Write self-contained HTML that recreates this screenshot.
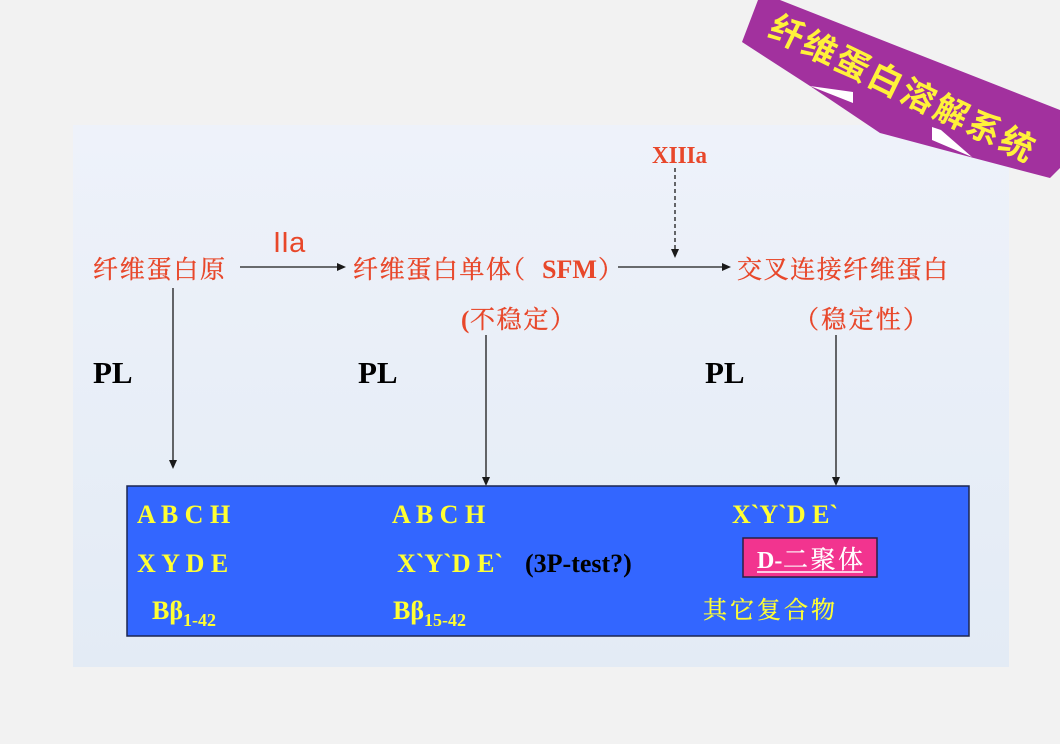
<!DOCTYPE html>
<html>
<head>
<meta charset="utf-8">
<style>
html,body{margin:0;padding:0;background:#f2f2f2;}
svg{display:block;}
</style>
</head>
<body>
<svg width="1060" height="744" viewBox="0 0 1060 744" xmlns="http://www.w3.org/2000/svg">
  <defs>
    <linearGradient id="pg" x1="0" y1="0" x2="0" y2="1">
      <stop offset="0" stop-color="#eef2fa"/>
      <stop offset="1" stop-color="#e3ebf5"/>
    </linearGradient>
  </defs>
  <rect x="0" y="0" width="1060" height="744" fill="#f2f2f2"/>
  <rect x="73" y="125" width="936" height="542" fill="url(#pg)"/>

  <!-- Banner -->
  <polygon points="758,0 780,0 1060,110 1060,168 1050,178 970,157 880,133 810,86 742,42" fill="#a2319e"/>
  <polygon points="810,86 853,92 853,103" fill="#ffffff"/>
  <polygon points="932,127 941,130 972,157 932,140" fill="#ffffff"/>
  <text x="902" y="100" text-anchor="middle" font-family="'Noto Sans CJK SC','WenQuanYi Zen Hei',sans-serif" font-weight="bold" font-size="34" fill="#fff23a" textLength="290" lengthAdjust="spacing" transform="rotate(26 902 88)">纤维蛋白溶解系统</text>

  <!-- Top row -->
  <g font-family="'Noto Serif CJK SC','Liberation Serif',serif" fill="#e8472a" stroke="#e8472a" stroke-width="0.35" font-size="25">
    <text x="93" y="278" textLength="132" lengthAdjust="spacing">纤维蛋白原</text>
    <text x="353" y="278" textLength="158" lengthAdjust="spacing">纤维蛋白单体</text>
    <text x="500" y="278">（</text>
    <text x="598" y="278">）</text>
    <text x="737" y="278" textLength="211" lengthAdjust="spacing">交叉连接纤维蛋白</text>
    <text x="470" y="328" textLength="105" lengthAdjust="spacing">不稳定）</text>
    <text x="794" y="328" textLength="134" lengthAdjust="spacing">（稳定性）</text>
  </g>
  <text x="542" y="278" font-family="'Liberation Serif',serif" font-weight="bold" font-size="26" fill="#e8472a">SFM</text>
  <text x="461" y="328" font-family="'Liberation Serif',serif" font-weight="bold" font-size="25" fill="#e8472a">(</text>
  <text x="273" y="252" font-family="'Liberation Sans',sans-serif" font-size="29" fill="#e8472a">IIa</text>
  <text x="652" y="163" font-family="'Liberation Serif',serif" font-weight="bold" font-size="24" fill="#e8472a" textLength="55" lengthAdjust="spacingAndGlyphs">XIIIa</text>

  <!-- Arrows -->
  <g stroke="#1a1a1a" stroke-width="1.3" fill="none">
    <line x1="240" y1="267" x2="338" y2="267"/>
    <line x1="618" y1="267" x2="723" y2="267"/>
    <line x1="675" y1="168" x2="675" y2="250" stroke-dasharray="4,3"/>
    <line x1="173" y1="288" x2="173" y2="461"/>
    <line x1="486" y1="335" x2="486" y2="478"/>
    <line x1="836" y1="335" x2="836" y2="478"/>
  </g>
  <g fill="#1a1a1a">
    <polygon points="346,267 337,263 337,271"/>
    <polygon points="731,267 722,263 722,271"/>
    <polygon points="675,258 671,249 679,249"/>
    <polygon points="173,469 169,460 177,460"/>
    <polygon points="486,486 482,477 490,477"/>
    <polygon points="836,486 832,477 840,477"/>
  </g>

  <!-- PL labels -->
  <g font-family="'Liberation Serif',serif" font-weight="bold" font-size="31" fill="#000">
    <text x="93" y="383">PL</text>
    <text x="358" y="383">PL</text>
    <text x="705" y="383">PL</text>
  </g>

  <!-- Blue box -->
  <rect x="127" y="486" width="842" height="150" fill="#3366ff" stroke="#1c2650" stroke-width="1.5"/>
  <g font-family="'Liberation Serif',serif" font-weight="bold" font-size="26" fill="#ffff33">
    <text x="137" y="523">A B C H</text>
    <text x="137" y="572">X Y D E</text>
    <text x="152" y="619">Bβ<tspan font-size="18" dy="7">1-42</tspan></text>
    <text x="392" y="523">A B C H</text>
    <text x="397" y="572">X`Y`D E`</text>
    <text x="393" y="619">Bβ<tspan font-size="18" dy="7">15-42</tspan></text>
    <text x="732" y="523">X`Y`D E`</text>
  </g>
  <text x="525" y="572" font-family="'Liberation Serif',serif" font-weight="bold" font-size="26" fill="#000">(3P-test?)</text>

  <!-- Pink box -->
  <rect x="743" y="538" width="134" height="39" fill="#f2348f" stroke="#2a2040" stroke-width="1.5"/>
  <text x="757" y="568" font-family="'Liberation Serif',serif" font-weight="bold" font-size="24" fill="#ffffff">D-</text>
  <text x="783" y="568" font-family="'Noto Serif CJK SC',serif" font-size="25" fill="#ffffff" stroke="#ffffff" stroke-width="0.3" textLength="80" lengthAdjust="spacing">二聚体</text>
  <line x1="757" y1="572" x2="863" y2="572" stroke="#ffffff" stroke-width="1.5"/>

  <text x="703" y="618" font-family="'Noto Serif CJK SC',serif" font-size="24" fill="#ffff33" stroke="#ffff33" stroke-width="0.3" textLength="132" lengthAdjust="spacing">其它复合物</text>
</svg>
</body>
</html>
